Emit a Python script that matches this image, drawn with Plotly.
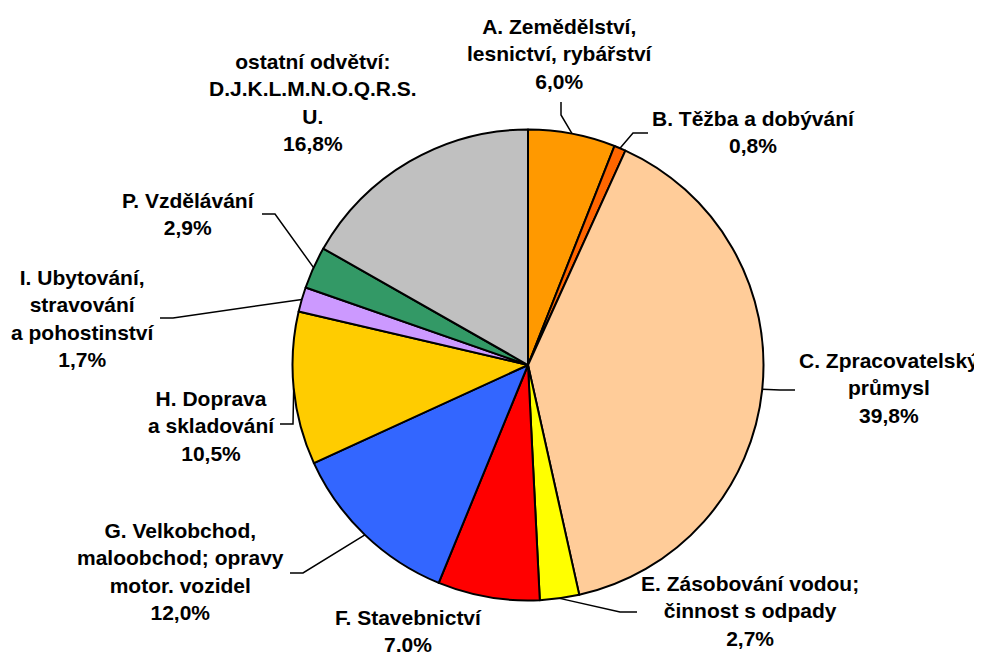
import math
import plotly.graph_objects as go

# ---- data ----
categories = [
    "A. Zemědělství,<br>lesnictví, rybářství",
    "B. Těžba a dobývání",
    "C. Zpracovatelský<br>průmysl",
    "E. Zásobování vodou;<br>činnost s odpady",
    "F. Stavebnictví",
    "G. Velkobchod,<br>maloobchod; opravy<br>motor. vozidel",
    "H. Doprava<br>a skladování",
    "I. Ubytování,<br>stravování<br>a pohostinství",
    "P. Vzdělávání",
    "ostatní odvětví:<br>D.J.K.L.M.N.O.Q.R.S.<br>U.",
]
values = [6.0, 0.8, 39.8, 2.7, 7.0, 12.0, 10.5, 1.7, 2.9, 16.8]

# ---- styles ----
colors = ["#FF9900", "#FF6600", "#FFCC99", "#FFFF00", "#FF0000",
          "#3366FF", "#FFCC00", "#CC99FF", "#339966", "#C0C0C0"]

OFF = 8  # page body margin of the html page
W, H = 982 - OFF, 652 - OFF
CX, CY, R = 528.0, 365.0, 235.5

# label text centres (page pixels) and leader-line points after the pie edge (page pixels)
label_pos = [(560, 54), (753, 132), (889, 388), (750, 611), (408, 631),
             (180, 571), (211, 426), (83, 318), (188, 214), (313, 102)]
leader_pts = [
    [(561, 115), (561, 102)],
    [(633, 133), (648, 133)],
    [(780, 390), (795, 390)],
    [(620, 612), (637, 612)],
    None,
    [(303, 573), (290, 573)],
    [(293, 424), (280, 424)],
    [(173, 318), (160, 318)],
    [(275, 214), (262, 214)],
    None,
]

def px(x):
    return (x - OFF) / W

def py(y):
    return 1 - (y - OFF) / H

fig = go.Figure(go.Pie(
    values=values,
    labels=[c.replace("<br>", " ") for c in categories],
    marker=dict(colors=colors, line=dict(color="black", width=2)),
    sort=False, direction="clockwise", rotation=0,
    textinfo="none", hoverinfo="label+percent",
    domain=dict(x=[px(CX - R), px(CX + R)], y=[py(CY + R), py(CY - R)]),
    showlegend=False,
))

total = sum(values)
cum = 0.0
shapes = []
annotations = []
for i, v in enumerate(values):
    mid = (cum + v / 2) / total
    cum += v
    ang = 2 * math.pi * mid
    ex, ey = CX + R * math.sin(ang), CY - R * math.cos(ang)
    pts = leader_pts[i]
    if pts:
        path = f"M {px(ex)},{py(ey)}" + "".join(f" L {px(x)},{py(y)}" for x, y in pts)
        shapes.append(dict(type="path", path=path, xref="paper", yref="paper",
                           line=dict(color="black", width=1.5)))
    pct = f"{v:.1f}".replace(".", ",") + "%"
    lx, ly = label_pos[i]
    annotations.append(dict(
        text=categories[i] + "<br>" + pct, x=px(lx), y=py(ly),
        xref="paper", yref="paper", xanchor="center", yanchor="middle",
        align="center", showarrow=False,
        font=dict(family="Liberation Sans, Arial, sans-serif", size=21,
                  color="black", weight="bold"),
    ))

fig.update_layout(
    width=W, height=H,
    margin=dict(l=0, r=0, t=0, b=0),
    paper_bgcolor="white", plot_bgcolor="white",
    shapes=shapes, annotations=annotations,
)

fig.write_html("out.html")
